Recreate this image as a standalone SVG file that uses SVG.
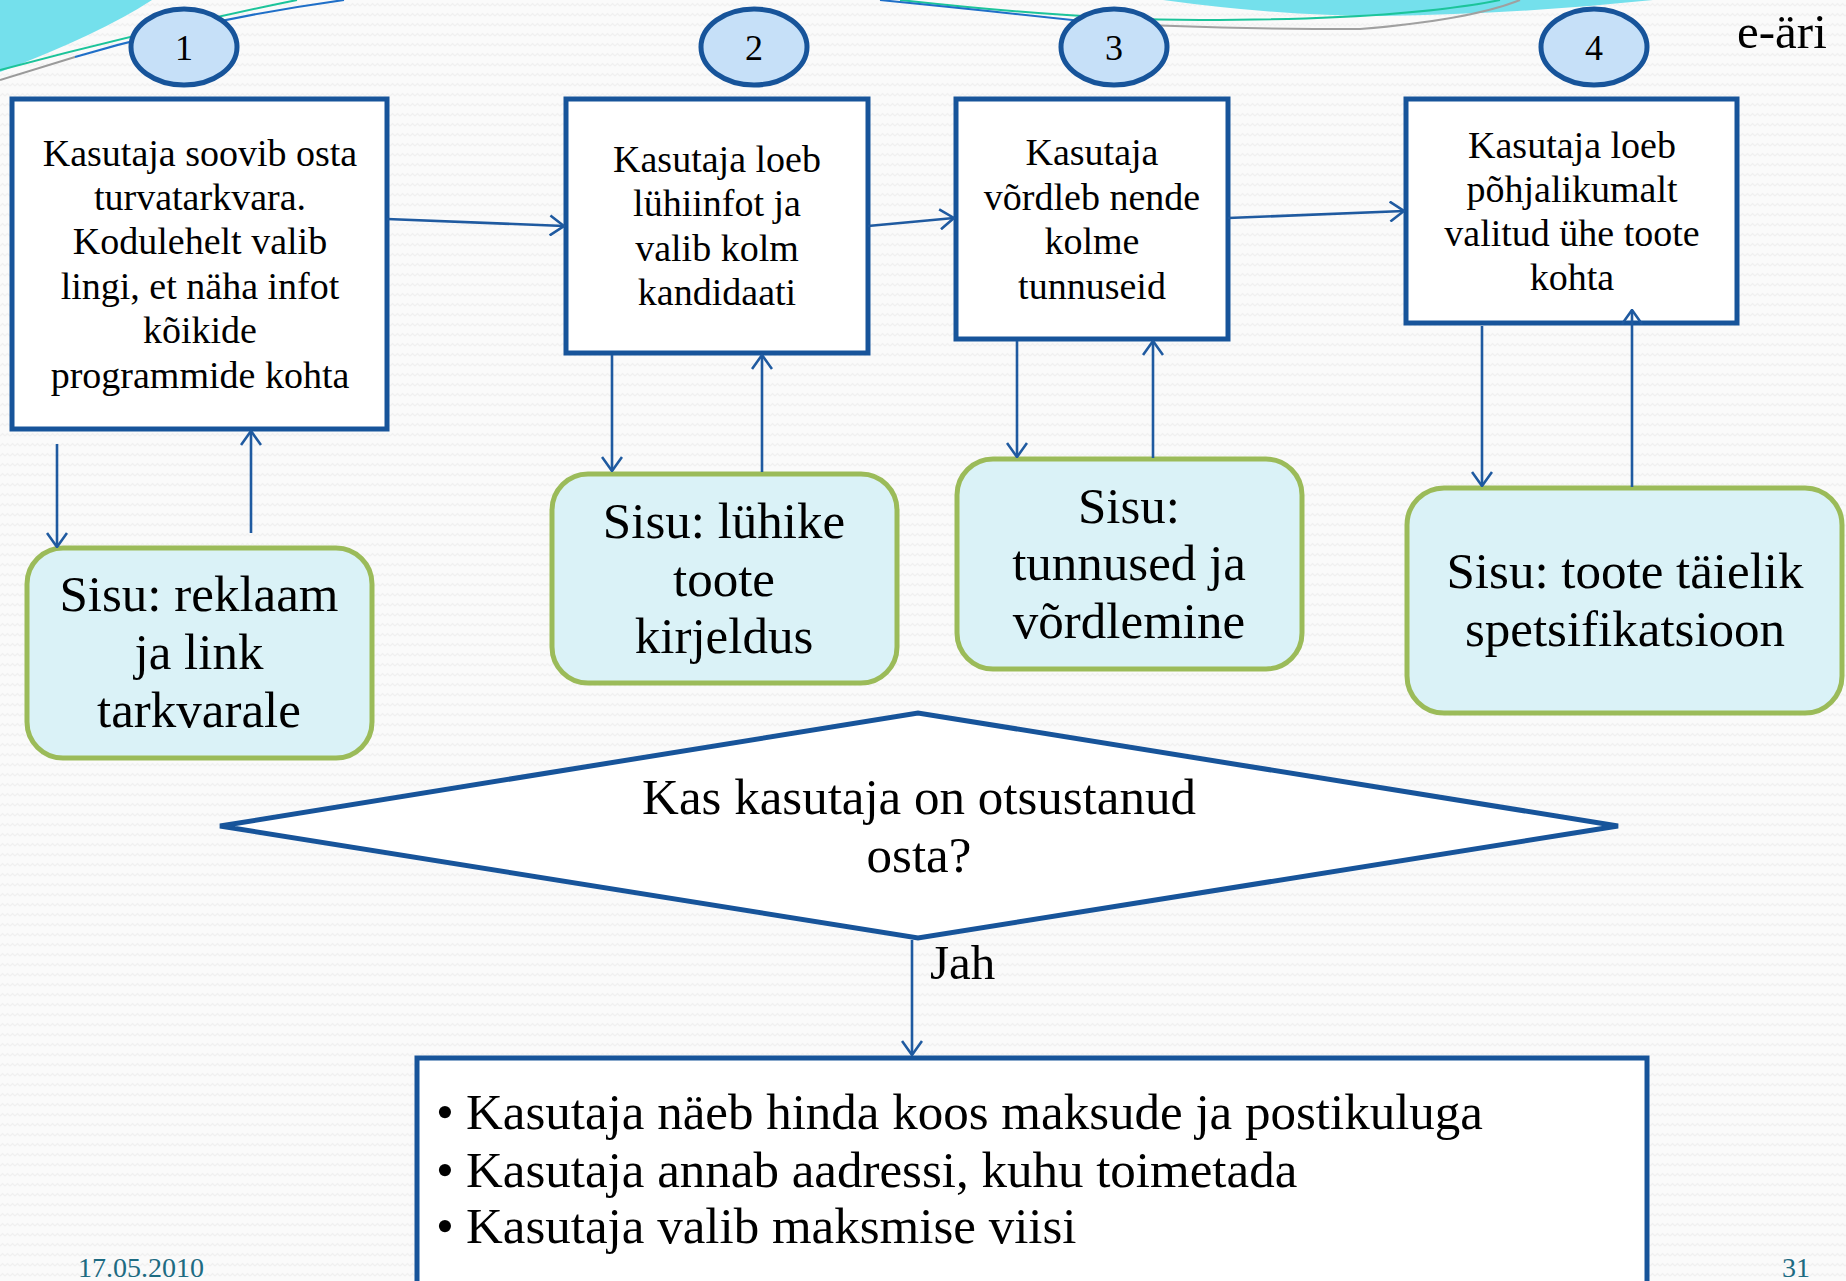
<svg xmlns="http://www.w3.org/2000/svg" width="1846" height="1281" viewBox="0 0 1846 1281">
  <defs>
    <pattern id="wave" width="10" height="10" patternUnits="userSpaceOnUse">
      <rect width="10" height="10" fill="#fafafa"/>
      <path d="M0,6 L2.5,3.5 L5,6 L7.5,3.5 L10,6" fill="none" stroke="#f0f0f0" stroke-width="1.2"/>
    </pattern>
    <marker id="ah" viewBox="0 0 16 22" refX="15" refY="11" markerWidth="16" markerHeight="22" markerUnits="userSpaceOnUse" orient="auto">
      <path d="M1,1 L15,11 L1,21" fill="none" stroke="#1f5aa0" stroke-width="2.6"/>
    </marker>
    <style>
      .box { fill: #ffffff; stroke: #17549a; stroke-width: 5; }
      .soft { fill: #daf2f7; stroke: #9bbb59; stroke-width: 5; }
      .badge { fill: #c6e0f8; stroke: #17549a; stroke-width: 5; }
      .conn { fill: none; stroke: #1f5aa0; stroke-width: 2.6; marker-end: url(#ah); }
      text { font-family: "Liberation Serif", "Times New Roman", serif; fill: #000000; }
      .t38 { font-size: 38px; text-anchor: middle; }
      .t51 { font-size: 51px; text-anchor: middle; }
      .num { font-size: 36px; text-anchor: middle; }
      .foot { font-size: 28px; fill: #1d6b82; }
    </style>
  </defs>

  <!-- background -->
  <rect width="1846" height="1281" fill="url(#wave)"/>

  <!-- header swooshes -->
  <g id="decor">
    <path d="M0,0 L152,0 Q100,34 0,72 Z" fill="#74e0ec"/>
    <path d="M1163,0 Q1280,16 1380,16 Q1520,14 1653,0 Z" fill="#74e0ec"/>
    <path d="M0,70 Q150,30 297,0" fill="none" stroke="#1cc49a" stroke-width="2"/>
    <path d="M0,80 L75,57" fill="none" stroke="#9a9a9a" stroke-width="2"/>
    <path d="M75,57 Q200,20 344,0" fill="none" stroke="#1f6fc8" stroke-width="2"/>
    <path d="M900,0 Q1080,20 1200,20 Q1400,20 1500,0" fill="none" stroke="#1cc49a" stroke-width="2"/>
    <path d="M880,0 Q1000,12 1090,22" fill="none" stroke="#1f6fc8" stroke-width="2"/>
    <path d="M1090,22 Q1200,29 1360,29 Q1470,20 1520,0" fill="none" stroke="#a0a0a0" stroke-width="2"/>
  </g>

  <text x="1737" y="48" style="font-size:49px">e-äri</text>

  <!-- step badges -->
  <g id="badge1"><ellipse class="badge" cx="184" cy="47" rx="53" ry="38"/><text class="num" x="184" y="60">1</text></g>
  <g id="badge2"><ellipse class="badge" cx="754" cy="47" rx="53" ry="38"/><text class="num" x="754" y="60">2</text></g>
  <g id="badge3"><ellipse class="badge" cx="1114" cy="47" rx="53" ry="38"/><text class="num" x="1114" y="60">3</text></g>
  <g id="badge4"><ellipse class="badge" cx="1594" cy="47" rx="53" ry="38"/><text class="num" x="1594" y="60">4</text></g>

  <!-- step boxes -->
  <g id="step1">
    <rect class="box" x="12" y="99" width="375" height="330"/>
    <text class="t38" x="200" y="166">Kasutaja soovib osta</text>
    <text class="t38" x="200" y="210">turvatarkvara.</text>
    <text class="t38" x="200" y="254">Kodulehelt valib</text>
    <text class="t38" x="200" y="299">lingi, et näha infot</text>
    <text class="t38" x="200" y="343">kõikide</text>
    <text class="t38" x="200" y="388">programmide kohta</text>
  </g>
  <g id="step2">
    <rect class="box" x="566" y="99" width="302" height="254"/>
    <text class="t38" x="717" y="172">Kasutaja loeb</text>
    <text class="t38" x="717" y="216">lühiinfot ja</text>
    <text class="t38" x="717" y="261">valib kolm</text>
    <text class="t38" x="717" y="305">kandidaati</text>
  </g>
  <g id="step3">
    <rect class="box" x="956" y="99" width="272" height="240"/>
    <text class="t38" x="1092" y="165">Kasutaja</text>
    <text class="t38" x="1092" y="210">võrdleb nende</text>
    <text class="t38" x="1092" y="254">kolme</text>
    <text class="t38" x="1092" y="299">tunnuseid</text>
  </g>
  <g id="step4">
    <rect class="box" x="1406" y="99" width="331" height="224"/>
    <text class="t38" x="1572" y="158">Kasutaja loeb</text>
    <text class="t38" x="1572" y="202">põhjalikumalt</text>
    <text class="t38" x="1572" y="246">valitud ühe toote</text>
    <text class="t38" x="1572" y="290">kohta</text>
  </g>

  <!-- content boxes -->
  <g id="content1">
    <rect class="soft" x="27" y="548" width="345" height="210" rx="36"/>
    <text class="t51" x="199" y="611">Sisu: reklaam</text>
    <text class="t51" x="199" y="669">ja link</text>
    <text class="t51" x="199" y="727">tarkvarale</text>
  </g>
  <g id="content2">
    <rect class="soft" x="552" y="474" width="345" height="209" rx="36"/>
    <text class="t51" x="724" y="538">Sisu: lühike</text>
    <text class="t51" x="724" y="596">toote</text>
    <text class="t51" x="724" y="653">kirjeldus</text>
  </g>
  <g id="content3">
    <rect class="soft" x="957" y="459" width="345" height="210" rx="36"/>
    <text class="t51" x="1129" y="523">Sisu:</text>
    <text class="t51" x="1129" y="580">tunnused ja</text>
    <text class="t51" x="1129" y="638">võrdlemine</text>
  </g>
  <g id="content4">
    <rect class="soft" x="1407" y="488" width="435" height="225" rx="37"/>
    <text class="t51" x="1625" y="588">Sisu: toote täielik</text>
    <text class="t51" x="1625" y="646">spetsifikatsioon</text>
  </g>

  <!-- decision -->
  <g id="decision">
    <polygon class="box" points="220,826 918,713 1618,826 918,938"/>
    <text class="t51" x="919" y="814">Kas kasutaja on otsustanud</text>
    <text class="t51" x="919" y="872">osta?</text>
  </g>

  <!-- checkout box -->
  <g id="checkout">
    <rect class="box" x="417" y="1058" width="1230" height="240"/>
    <text x="436" y="1129" style="font-size:51px">•</text>
    <text x="466" y="1129" style="font-size:51px">Kasutaja näeb hinda koos maksude ja postikuluga</text>
    <text x="436" y="1187" style="font-size:51px">•</text>
    <text x="466" y="1187" style="font-size:51px">Kasutaja annab aadressi, kuhu toimetada</text>
    <text x="436" y="1243" style="font-size:51px">•</text>
    <text x="466" y="1243" style="font-size:51px">Kasutaja valib maksmise viisi</text>
  </g>

  <!-- connectors, drawn over the boxes so arrowheads stay visible -->
  <g id="connectors">
    <path class="conn" d="M387,219 L564,226"/>
    <path class="conn" d="M868,226 L954,218"/>
    <path class="conn" d="M1228,218 L1404,211"/>
    <path class="conn" d="M57,444 L57,547"/>
    <path class="conn" d="M251,533 L251,431"/>
    <path class="conn" d="M612,355 L612,471"/>
    <path class="conn" d="M762,472 L762,355"/>
    <path class="conn" d="M1017,341 L1017,457"/>
    <path class="conn" d="M1153,458 L1153,341"/>
    <path class="conn" d="M1482,326 L1482,486"/>
    <path class="conn" d="M1632,487 L1632,310"/>
    <path class="conn" d="M912,940 L912,1055"/>
  </g>
  <text x="930" y="979" style="font-size:49px">Jah</text>

  <!-- footer -->
  <text class="foot" x="78" y="1277">17.05.2010</text>
  <text class="foot" x="1782" y="1277">31</text>
</svg>
